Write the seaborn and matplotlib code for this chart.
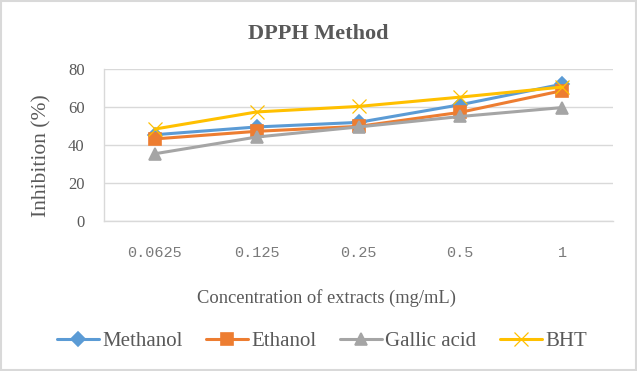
import numpy as np
import pandas as pd
import matplotlib.pyplot as plt
import seaborn as sns
from matplotlib.patches import Rectangle

concentrations = ['0.0625', '0.125', '0.25', '0.5', '1']
methanol = [45.4, 49.5, 51.9, 61.2, 72.0]
ethanol = [43.2, 47.2, 49.8, 57.2, 68.6]
gallic_acid = [35.4, 44.2, 49.5, 55.0, 59.7]
bht = [48.4, 57.4, 60.3, 65.2, 70.5]

series = {'Methanol': methanol, 'Ethanol': ethanol,
          'Gallic acid': gallic_acid, 'BHT': bht}
colors = {'Methanol': '#5B9BD5', 'Ethanol': '#ED7D31',
          'Gallic acid': '#A5A5A5', 'BHT': '#FFC000'}
markers = {'Methanol': 'D', 'Ethanol': 's', 'Gallic acid': '^', 'BHT': 'x'}
msizes = {'Methanol': 7, 'Ethanol': 8.5, 'Gallic acid': 9, 'BHT': 10}
edge_w = {'Methanol': 1.2, 'Ethanol': 1.2, 'Gallic acid': 1.2, 'BHT': 0.9}

sns.set_style('white')
plt.rcParams['font.family'] = ['Liberation Serif', 'DejaVu Serif']
grey = '#595959'

fig = plt.figure(figsize=(6.37, 3.71), dpi=100)
ax = fig.add_axes([104 / 637, 1 - 221 / 371, (613 - 104) / 637, (221 - 69) / 371])

for name, vals in series.items():
    df = pd.DataFrame({'conc': concentrations, 'value': vals})
    sns.lineplot(data=df, x='conc', y='value', color=colors[name], marker=markers[name],
                 markersize=msizes[name], markeredgecolor=colors[name],
                 markeredgewidth=edge_w[name], linewidth=2.2, label=name, ax=ax)

ax.set_xlim(-0.5, 4.5)
ax.set_ylim(0, 80)
ax.set_yticks([0, 20, 40, 60, 80])
ax.grid(axis='y', color='#D9D9D9', linewidth=1)
ax.set_axisbelow(True)
for s in ['top', 'right']:
    ax.spines[s].set_visible(False)
for s in ['left', 'bottom']:
    ax.spines[s].set_color('#D9D9D9')
    ax.spines[s].set_linewidth(1)
ax.tick_params(axis='both', length=0, colors=grey)
ax.tick_params(axis='y', labelsize=12, pad=14)
ax.tick_params(axis='x', labelsize=11, pad=18, labelcolor='#7A7A7A')
for lbl in ax.get_xticklabels():
    lbl.set_fontfamily('Liberation Mono')

ax.set_xlabel('Concentration of extracts (mg/mL)', fontsize=13.3, color=grey, va='center')
ax.xaxis.set_label_coords(0.437, -0.507)
ax.set_ylabel('Inhibition (%)', fontsize=15.5, color=grey, va='center')
ax.yaxis.set_label_coords(-0.122, 0.43)
fig.text(0.5, 1 - 34 / 371, 'DPPH Method', ha='center', va='center',
         fontsize=16, fontweight='bold', color=grey)

handles, labels = ax.get_legend_handles_labels()
ax.legend(handles, labels, loc='center', bbox_to_anchor=(322 / 637, 1 - 341 / 371),
          bbox_transform=fig.transFigure, ncol=4, frameon=False, fontsize=15,
          handlelength=2.0, handletextpad=0.15, columnspacing=1.15,
          labelcolor=grey, borderpad=0)

fig.patches.append(Rectangle((0.002, 0.003), 0.996, 0.994, transform=fig.transFigure,
                             fill=False, edgecolor='#D9D9D9', linewidth=1.5))
fig.savefig('out.png', dpi=100, facecolor='white')
